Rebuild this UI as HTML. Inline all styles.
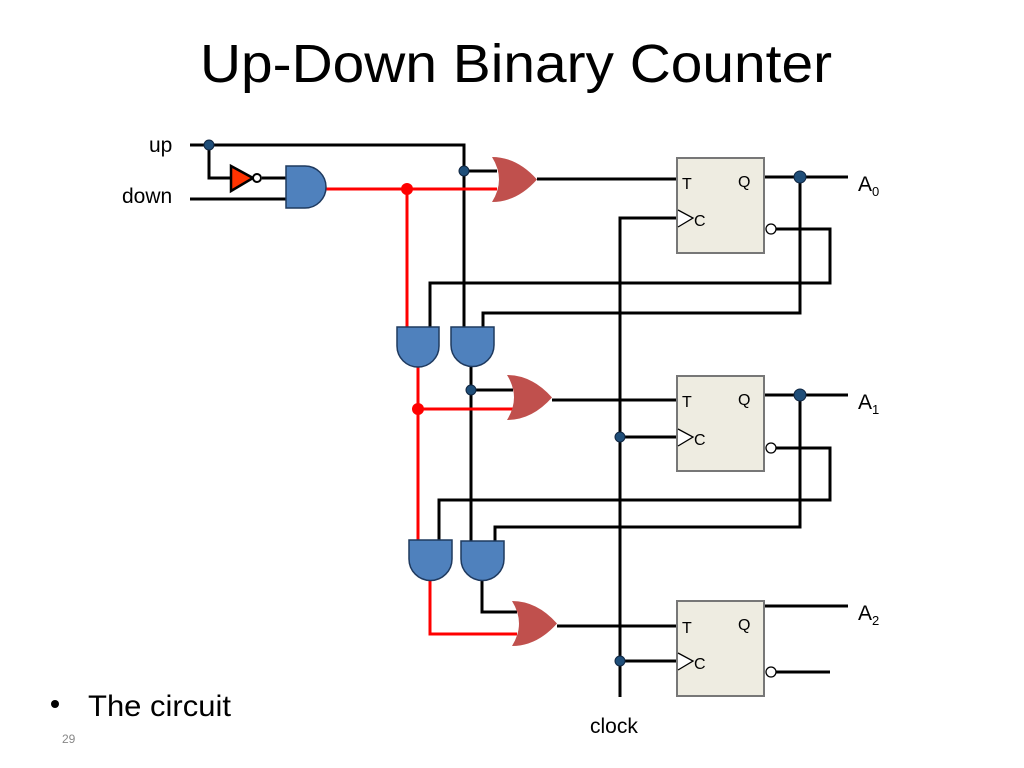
<!DOCTYPE html>
<html><head><meta charset="utf-8"><style>
html,body{margin:0;padding:0;background:#fff;}
svg{display:block;}
text{font-family:"Liberation Sans",sans-serif;}
</style></head><body>
<svg width="1024" height="768" viewBox="0 0 1024 768" xmlns="http://www.w3.org/2000/svg">
<rect width="1024" height="768" fill="#fff"/>
<text x="200" y="82" font-size="54" textLength="632" lengthAdjust="spacingAndGlyphs" fill="#000">Up-Down Binary Counter</text>

<g stroke="#000" stroke-width="3" fill="none">
<polyline points="190,145 464,145 464,327"/>
<polyline points="209,145 209,178 231,178"/>
<line x1="262" y1="178" x2="286" y2="178"/>
<line x1="190" y1="199" x2="286" y2="199"/>
<line x1="464" y1="171" x2="497" y2="171"/>
<line x1="537" y1="179" x2="678" y2="179"/>
<line x1="765" y1="177" x2="848" y2="177"/>
<polyline points="800,177 800,313 483,313 483,327"/>
<polyline points="776,229 830,229 830,283 430,283 430,327"/>
<polyline points="678,218 620,218 620,697"/>
<line x1="620" y1="437" x2="678" y2="437"/>
<line x1="620" y1="661" x2="678" y2="661"/>
<line x1="471" y1="366" x2="471" y2="541"/>
<line x1="471" y1="390" x2="513" y2="390"/>
<line x1="552" y1="400" x2="678" y2="400"/>
<line x1="765" y1="395" x2="848" y2="395"/>
<polyline points="800,395 800,527 495,527 495,541"/>
<polyline points="776,448 830,448 830,500 439,500 439,540"/>
<polyline points="482,580 482,612 517,612"/>
<line x1="557" y1="626" x2="678" y2="626"/>
<line x1="765" y1="606" x2="848" y2="606"/>
<line x1="776" y1="672" x2="830" y2="672"/>
</g>

<g stroke="#ff0000" stroke-width="3" fill="none">
<line x1="325" y1="189" x2="497" y2="189"/>
<line x1="407" y1="189" x2="407" y2="327"/>
<line x1="418" y1="366" x2="418" y2="540"/>
<line x1="418" y1="409" x2="513" y2="409"/>
<polyline points="430,580 430,634 517,634"/>
</g>

<polygon points="231,166 231,191 253,178" fill="#ff3300" stroke="#000" stroke-width="2.5"/>
<circle cx="257" cy="178" r="4" fill="#fff" stroke="#000" stroke-width="2"/>

<g fill="#4f81bd" stroke="#1f3a5f" stroke-width="1.5">
<path d="M286 166 H305 A21 21 0 0 1 305 208 H286 Z"/>
<path d="M397 327 H439 V346 A21 21 0 0 1 397 346 Z"/>
<path d="M451 327 H494 V345 A21.5 21.5 0 0 1 451 345 Z"/>
<path d="M409 540 H452 V559 A21.5 21.5 0 0 1 409 559 Z"/>
<path d="M461 541 H504 V559 A21.5 21.5 0 0 1 461 559 Z"/>
</g>

<g fill="#c0504d">
<path d="M492 157 Q517 157 537 179.5 Q517 202 492 202 Q506 179.5 492 157 Z"/>
<path d="M507 375 Q532 375 552 397.5 Q532 420 507 420 Q521 397.5 507 375 Z"/>
<path d="M512 601 Q537 601 557 623.5 Q537 646 512 646 Q526 623.5 512 601 Z"/>
</g>

<g stroke="#777" stroke-width="2" fill="#eeece1">
<rect x="677" y="158" width="87" height="95"/>
<rect x="677" y="376" width="87" height="95"/>
<rect x="677" y="601" width="87" height="95"/>
</g>
<g stroke="#000" stroke-width="1.3" fill="#fff">
<polyline points="678,210 693,218 678,227"/>
<polyline points="678,429 693,437 678,446"/>
<polyline points="678,653 693,661 678,670"/>
<circle cx="771" cy="229" r="5"/>
<circle cx="771" cy="448" r="5"/>
<circle cx="771" cy="672" r="5"/>
</g>
<g font-size="16" fill="#000">
<text x="682" y="189">T</text><text x="738" y="187">Q</text><text x="694" y="226">C</text>
<text x="682" y="407">T</text><text x="738" y="405">Q</text><text x="694" y="445">C</text>
<text x="682" y="633">T</text><text x="738" y="630">Q</text><text x="694" y="669">C</text>
</g>

<g fill="#1f4e79" stroke="#0f2540" stroke-width="1">
<circle cx="209" cy="145" r="5"/>
<circle cx="464" cy="171" r="5"/>
<circle cx="800" cy="177" r="6"/>
<circle cx="471" cy="390" r="5"/>
<circle cx="800" cy="395" r="6"/>
<circle cx="620" cy="437" r="5"/>
<circle cx="620" cy="661" r="5"/>
</g>
<g fill="#ff0000">
<circle cx="407" cy="189" r="6"/>
<circle cx="418" cy="409" r="6"/>
</g>

<g font-size="21" fill="#000">
<text x="149" y="152">up</text>
<text x="122" y="203">down</text>
<text x="858" y="191">A<tspan font-size="13" dy="5">0</tspan></text>
<text x="858" y="409">A<tspan font-size="13" dy="5">1</tspan></text>
<text x="858" y="620">A<tspan font-size="13" dy="5">2</tspan></text>
<text x="590" y="733">clock</text>
</g>
<circle cx="55" cy="704" r="4" fill="#000"/>
<text x="88" y="716" font-size="30" textLength="143" lengthAdjust="spacingAndGlyphs" fill="#000">The circuit</text>
<text x="62" y="743" font-size="12" fill="#888">29</text>
</svg>
</body></html>
